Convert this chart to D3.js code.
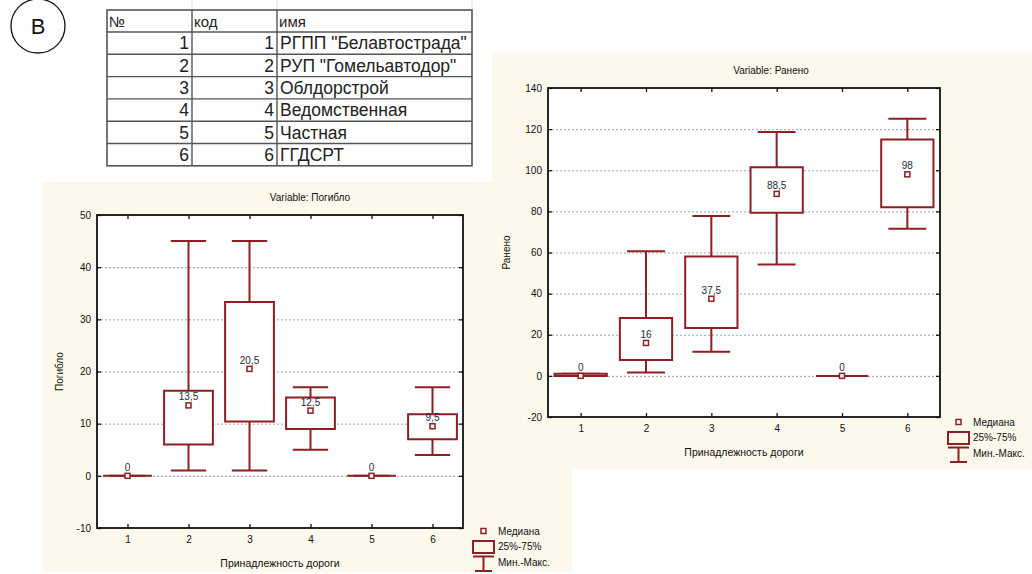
<!DOCTYPE html>
<html>
<head>
<meta charset="utf-8">
<script src="https://cdn.jsdelivr.net/npm/d3@7"></script>
<style>
    body { margin: 0; background: #fff; }
    text { font-family: "Liberation Sans", Arial, sans-serif; }
</style>
</head>
<body>
<script>
// Table
const tableHeader = ["№", "код", "имя"];
const tableNums = [1, 2, 3, 4, 5, 6];
const tableCodes = [1, 2, 3, 4, 5, 6];
const tableNames = ["РГПП \"Белавтострада\"", "РУП \"Гомельавтодор\"", "Облдорстрой", "Ведомственная", "Частная", "ГГДСРТ"];

// Box plot categories (road owner code)
const categories = [1, 2, 3, 4, 5, 6];

// Variable: Погибло
const killedMin = [0, 1, 1, 5, 0, 4];
const killedQ1 = [0, 6, 10.4, 9, 0, 7];
const killedMedian = [0, 13.5, 20.5, 12.5, 0, 9.5];
const killedQ3 = [0, 16.3, 33.3, 15, 0, 11.8];
const killedMax = [0, 45, 45, 17, 0, 17];
const killedTicks = [-10, 0, 10, 20, 30, 40, 50];

// Variable: Ранено
const injuredMin = [0, 1.6, 11.7, 54.2, 0, 71.6];
const injuredQ1 = [0, 7.7, 23.3, 79.3, 0, 82];
const injuredMedian = [0, 16, 37.5, 88.5, 0, 98];
const injuredQ3 = [1, 28.1, 58, 101.4, 0, 114.9];
const injuredMax = [1, 60.6, 77.7, 118.6, 0, 125];
const injuredTicks = [-20, 0, 20, 40, 60, 80, 100, 120, 140];

const legendLabels = ["Медиана", "25%-75%", "Мин.-Макс."];

const boxColor = "#8e1f22";
const panelColor = "#fcf8ec";

const svg = d3.select("body").append("svg").attr("width", 1032).attr("height", 574);

// Circled letter
svg.append("circle").attr("cx", 38).attr("cy", 26).attr("r", 27)
    .attr("fill", "#fff").attr("stroke", "#111").attr("stroke-width", 1.3);
svg.append("text").attr("x", 38).attr("y", 34).attr("text-anchor", "middle")
    .attr("font-size", 22).attr("fill", "#111").text("В");

// Spreadsheet table
function drawTable() {
    const colX = [107, 192, 277, 472];
    const top = 10;
    const headerH = 22;
    const rowH = 22.3;
    const bottom = top + headerH + rowH * tableNums.length;
    const g = svg.append("g");

    // faint sheet gridlines above
    colX.slice(1).forEach((x) => {
        g.append("line").attr("x1", x).attr("x2", x).attr("y1", 0).attr("y2", top)
            .attr("stroke", "#ddd");
    });

    g.append("rect").attr("x", colX[0]).attr("y", top)
        .attr("width", colX[3] - colX[0]).attr("height", bottom - top)
        .attr("fill", "#fff").attr("stroke", "#555").attr("stroke-width", 1.6);
    [colX[1], colX[2]].forEach((x) => {
        g.append("line").attr("x1", x).attr("x2", x).attr("y1", top).attr("y2", bottom)
            .attr("stroke", "#555").attr("stroke-width", 1.4);
    });
    for (let i = 0; i < tableNums.length; i++) {
        const y = top + headerH + rowH * i;
        g.append("line").attr("x1", colX[0]).attr("x2", colX[3]).attr("y1", y).attr("y2", y)
            .attr("stroke", "#555").attr("stroke-width", 1.4);
    }

    const font = 17.5;
    tableHeader.forEach((t, i) => {
        g.append("text").attr("x", colX[i] + 2).attr("y", top + headerH - 5)
            .attr("font-size", 15).attr("fill", "#222").text(t);
    });
    tableNums.forEach((n, i) => {
        const y = top + headerH + rowH * (i + 1) - 5;
        g.append("text").attr("x", colX[1] - 3).attr("y", y).attr("text-anchor", "end")
            .attr("font-size", font).attr("fill", "#222").text(n);
        g.append("text").attr("x", colX[2] - 3).attr("y", y).attr("text-anchor", "end")
            .attr("font-size", font).attr("fill", "#222").text(tableCodes[i]);
        g.append("text").attr("x", colX[2] + 3).attr("y", y)
            .attr("font-size", font).attr("fill", "#222").text(tableNames[i]);
    });
}

function fmt(v) {
    return String(v).replace(".", ",");
}

function drawBoxChart(cfg) {
    const g = svg.append("g");
    g.append("rect").attr("x", cfg.panel[0]).attr("y", cfg.panel[1])
        .attr("width", cfg.panel[2]).attr("height", cfg.panel[3]).attr("fill", panelColor);

    const f = cfg.frame;
    const x = d3.scaleLinear().domain([0.5, 6.5]).range([f.left, f.right]);
    const y = d3.scaleLinear().domain(cfg.yDomain).range([f.bottom, f.top]);
    const unit = x(2) - x(1);
    const boxW = unit * 0.8;
    const capW = unit * 0.58;

    g.append("rect").attr("x", f.left).attr("y", f.top)
        .attr("width", f.right - f.left).attr("height", f.bottom - f.top).attr("fill", "#fff");

    // grid
    const grid = g.append("g").attr("transform", `translate(${f.left},0)`)
        .call(d3.axisLeft(y).tickValues(cfg.ticks.slice(1, -1)).tickSize(-(f.right - f.left)).tickFormat(""));
    grid.select(".domain").remove();
    grid.selectAll("line").attr("stroke", "#a3a3a3").attr("stroke-dasharray", "2,2");

    // axes
    const axB = g.append("g").attr("transform", `translate(0,${f.bottom})`)
        .call(d3.axisBottom(x).tickValues(categories).tickSize(-4).tickPadding(8).tickFormat((d) => String(d)));
    const axT = g.append("g").attr("transform", `translate(0,${f.top})`)
        .call(d3.axisTop(x).tickValues(categories).tickSize(-4).tickFormat(""));
    const axL = g.append("g").attr("transform", `translate(${f.left},0)`)
        .call(d3.axisLeft(y).tickValues(cfg.ticks).tickSize(-4).tickPadding(6).tickFormat((d) => String(d)));
    const axR = g.append("g").attr("transform", `translate(${f.right},0)`)
        .call(d3.axisRight(y).tickValues(cfg.ticks).tickSize(-4).tickFormat(""));
    [axB, axT, axL, axR].forEach((a) => {
        a.select(".domain").remove();
        a.selectAll("line").attr("stroke", "#111").attr("stroke-width", 1.3);
        a.selectAll("text").attr("font-size", 10).attr("fill", "#111")
            .attr("font-family", "'Liberation Sans', Arial, sans-serif");
    });

    // boxes
    const data = categories.map((c, i) => ({
        c, min: cfg.min[i], q1: cfg.q1[i], med: cfg.median[i], q3: cfg.q3[i], max: cfg.max[i],
    }));
    const boxes = g.append("g").attr("fill", "none").attr("stroke", boxColor).attr("stroke-width", 2);
    data.forEach((d) => {
        const cx = x(d.c);
        const p = d3.path();
        p.moveTo(cx, y(d.q1)); p.lineTo(cx, y(d.min));
        p.moveTo(cx - capW / 2, y(d.min)); p.lineTo(cx + capW / 2, y(d.min));
        p.moveTo(cx, y(d.q3)); p.lineTo(cx, y(d.max));
        p.moveTo(cx - capW / 2, y(d.max)); p.lineTo(cx + capW / 2, y(d.max));
        boxes.append("path").attr("d", p.toString());
        const r = d3.path();
        r.rect(cx - boxW / 2, y(d.q3), boxW, y(d.q1) - y(d.q3));
        boxes.append("path").attr("d", r.toString()).attr("fill", "#fff");
    });
    data.forEach((d) => {
        const cx = x(d.c);
        g.append("rect").attr("x", cx - 2.5).attr("y", y(d.med) - 2.5).attr("width", 5).attr("height", 5)
            .attr("fill", "#fff").attr("stroke", boxColor).attr("stroke-width", 1.5);
        g.append("text").attr("x", cx).attr("y", y(d.med) - 5).attr("text-anchor", "middle")
            .attr("font-size", 10).attr("fill", "#23293a").text(fmt(d.med));
    });

    // frame
    g.append("rect").attr("x", f.left).attr("y", f.top)
        .attr("width", f.right - f.left).attr("height", f.bottom - f.top)
        .attr("fill", "none").attr("stroke", "#111").attr("stroke-width", 1.8);

    // titles
    g.append("text").attr("x", cfg.titlePos[0]).attr("y", cfg.titlePos[1]).attr("text-anchor", "middle")
        .attr("font-size", 10).attr("fill", "#111").text(cfg.title);
    g.append("text").attr("x", (f.left + f.right) / 2).attr("y", f.bottom + 39).attr("text-anchor", "middle")
        .attr("font-size", 10.5).attr("fill", "#111").text("Принадлежность дороги");
    g.append("text").attr("transform", `translate(${cfg.yTitleX},${(f.top + f.bottom) / 2}) rotate(-90)`)
        .attr("text-anchor", "middle").attr("font-size", 10).attr("fill", "#111").text(cfg.yTitle);

    // legend
    const lx = cfg.legend[0];
    const ly = cfg.legend[1];
    const lg = g.append("g");
    lg.append("rect").attr("x", lx + 8).attr("y", ly - 2.5).attr("width", 5).attr("height", 5)
        .attr("fill", "#fff").attr("stroke", boxColor).attr("stroke-width", 1.5);
    lg.append("rect").attr("x", lx).attr("y", ly + 10).attr("width", 21).attr("height", 12)
        .attr("fill", "none").attr("stroke", boxColor).attr("stroke-width", 2);
    const w = d3.path();
    w.moveTo(lx, ly + 25.5); w.lineTo(lx + 21, ly + 25.5);
    w.moveTo(lx + 10.5, ly + 25.5); w.lineTo(lx + 10.5, ly + 40);
    w.moveTo(lx + 2, ly + 40); w.lineTo(lx + 19, ly + 40);
    lg.append("path").attr("d", w.toString()).attr("fill", "none").attr("stroke", boxColor).attr("stroke-width", 2);
    legendLabels.forEach((t, i) => {
        lg.append("text").attr("x", lx + 25).attr("y", ly + 3.5 + i * 15.5)
            .attr("font-size", 10).attr("fill", "#111").text(t);
    });
}

drawTable();

drawBoxChart({
    panel: [43, 182, 529, 390],
    frame: { left: 97, right: 463, top: 215, bottom: 528 },
    yDomain: [-10, 50],
    ticks: killedTicks,
    min: killedMin, q1: killedQ1, median: killedMedian, q3: killedQ3, max: killedMax,
    title: "Variable: Погибло",
    titlePos: [310, 201],
    yTitle: "Погибло",
    yTitleX: 63,
    legend: [473, 531],
});

drawBoxChart({
    panel: [492, 53, 540, 416],
    frame: { left: 548, right: 940, top: 88, bottom: 417 },
    yDomain: [-20, 140],
    ticks: injuredTicks,
    min: injuredMin, q1: injuredQ1, median: injuredMedian, q3: injuredQ3, max: injuredMax,
    title: "Variable: Ранено",
    titlePos: [771, 74],
    yTitle: "Ранено",
    yTitleX: 510,
    legend: [948, 422],
});
</script>
</body>
</html>
